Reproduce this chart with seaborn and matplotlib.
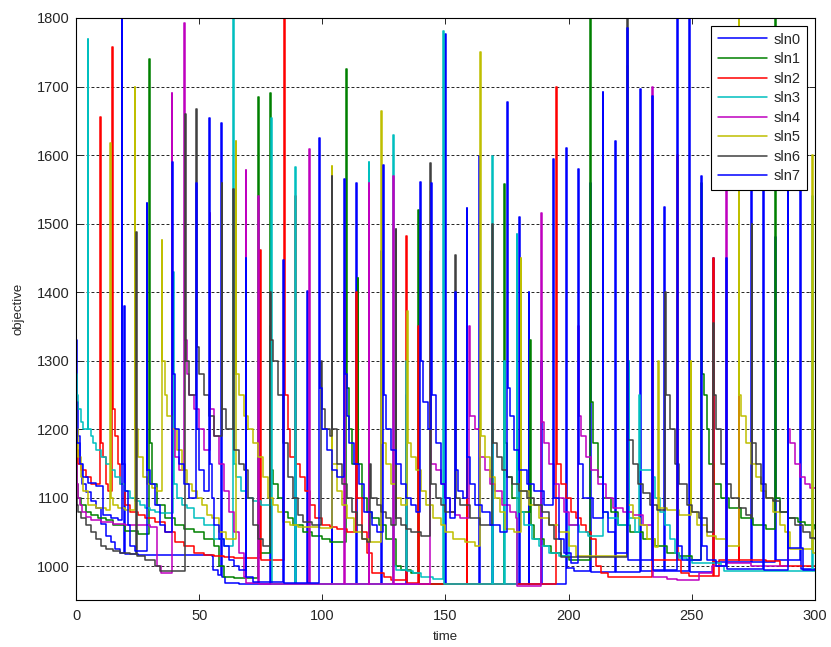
import matplotlib
matplotlib.use("Agg")
import matplotlib.pyplot as plt
import seaborn as sns
import pandas as pd

# ---- objective traces of the eight solutions (time, objective), drawn as steps ----
sln0_t = [0, 0.4, 0.8, 1.5, 2.5, 4, 6, 8, 10, 12, 14, 16, 18, 19.5, 19.8, 25, 35, 45, 55, 55.8, 57.5,
          58.9, 59.2, 60.5, 66, 78.8, 79.1, 88.9, 89.2, 93.7, 94, 103.8, 104.1, 113.8, 114.1, 118.8, 119.1,
          123.8, 124.1, 133.9, 134.2, 149.8, 150.1, 163.7, 164, 168.8, 169.1, 179.9, 180.2, 183.8, 184.1,
          188.8, 189.1, 198.9, 199.2, 202, 208.8, 209.1, 218.8, 219.1, 228.9, 229.2, 238.9, 239.2, 249, 249.3,
          258.6, 258.9, 274, 274.3, 283.9, 284.2, 294, 294.3, 300]
sln0_y = [1330, 1240, 1190, 1150, 1120, 1108, 1095, 1085, 1062, 1045, 1035, 1025, 1020, 1380, 1018, 1017, 1016, 1016, 1015, 995, 988,
          1647, 985, 976, 975, 1350, 975, 1300, 975, 1402, 975, 1500, 975, 1559, 975, 1200, 975,
          1460, 975, 1250, 975, 1777, 975, 1599, 975, 1300, 975, 1510, 975, 1400, 975,
          1300, 975, 1611, 998, 993, 1560, 992, 1621, 992, 1697, 993, 1524, 993, 1850, 992,
          1450, 1007, 1700, 1007, 1480, 1010, 1700, 996, 996]

sln1_t = [0, 0.5, 1, 2, 4, 6, 9, 12, 15, 20, 25, 29.6, 29.9, 31, 33, 36, 40, 44, 48, 52, 56, 58, 60, 64,
          73.8, 74.1, 78.8, 79.1, 80, 82, 84, 86, 88, 92, 96, 100, 103, 109.7, 110, 111, 112, 114.3, 114.6,
          116, 118, 120, 123, 126, 130, 132, 136, 138.9, 139.2, 173.8, 174.1, 175, 177, 180, 184.3, 184.6,
          186, 190, 193, 197, 200, 208.8, 209.1, 210, 212, 214, 217, 220, 225, 230, 235, 240, 245, 250,
          253.9, 254.2, 255, 256, 257, 259, 262, 265, 270, 275, 280, 283.9, 284.2, 286, 289, 293, 296, 300]
sln1_y = [1180, 1120, 1100, 1090, 1080, 1075, 1070, 1068, 1060, 1052, 1048, 1740, 1180, 1120, 1090, 1070, 1060, 1055, 1050, 1040, 1030, 1000, 985, 983,
          1685, 1020, 1690, 1140, 1120, 1100, 1080, 1070, 1060, 1050, 1045, 1040, 1035, 1726, 1260, 1200, 1150, 1420, 1150,
          1100, 1080, 1070, 1060, 1040, 1000, 995, 990, 1520, 975, 1558, 1180, 1130, 1100, 1080, 1330, 1060,
          1040, 1030, 1020, 1015, 1010, 1850, 1240, 1180, 1130, 1100, 1080, 1060, 1050, 1040, 1030, 1020, 1015, 1010,
          1560, 1280, 1250, 1200, 1150, 1120, 1100, 1085, 1070, 1060, 1055, 1800, 1100, 1080, 1070, 1065, 1060, 1055]

sln2_t = [0, 0.5, 1, 2, 4, 6, 9.7, 10, 11, 12, 13, 14.6, 14.9, 16, 17, 18, 20, 22, 25, 28, 32, 36, 40, 44,
          48, 52, 56, 60, 64, 68, 74.7, 75, 84.6, 84.9, 86, 87, 89.1, 89.4, 91, 93, 95, 97, 100, 103, 106,
          110, 113.8, 114.1, 116, 118, 120, 125, 128, 133.9, 134.2, 138.9, 139.2, 158.6, 158.9, 194.9, 195.2,
          197, 199, 201, 203, 205, 207, 209, 211, 213, 216, 234, 234.3, 243.9, 244.2, 245.5, 249, 258.6,
          258.9, 261, 269, 269.3, 280, 286, 300]
sln2_y = [1200, 1170, 1150, 1140, 1130, 1120, 1656, 1180, 1160, 1120, 1110, 1758, 1230, 1190, 1150, 1120, 1090, 1080, 1075, 1070, 1065, 1050, 1035, 1030,
          1020, 1016, 1015, 1014, 1013, 1012, 1462, 1010, 1850, 1250, 1200, 1160, 1540, 1150, 1130, 1110, 1090, 1070, 1060, 1058, 1055,
          1050, 1400, 1100, 1050, 1020, 990, 985, 980, 1482, 976, 1350, 975, 1300, 975, 1700, 1150,
          1120, 1100, 1080, 1070, 1060, 1050, 1040, 1000, 990, 985, 1600, 1010, 1600, 1010, 990, 986, 1450,
          986, 1010, 1700, 1010, 1008, 1000, 1000]

sln3_t = [0, 0.5, 1, 2, 3, 4.7, 5, 6, 7, 8, 10, 12, 14, 16, 18, 20, 22, 24, 26, 28, 30, 32, 34, 39.5, 39.8,
          41, 43, 45, 48, 52, 56, 60, 63.7, 64, 65, 67, 69, 72, 75, 79.3, 79.6, 88.9, 89.2, 118.8, 119.1,
          128.8, 129.1, 130, 133.9, 134.2, 137, 140, 145, 148.9, 149.2, 168.8, 169.1, 173.8, 174.1, 178.9,
          179.2, 180, 182, 185, 188, 192, 196, 200, 204, 208, 213.8, 214.1, 216, 220, 224.3, 224.6, 227,
          228.5, 228.8, 234, 235, 237, 239, 241, 243, 245, 248, 250, 262, 263, 298.8, 299.1, 300]
sln3_y = [1280, 1250, 1230, 1210, 1200, 1770, 1200, 1190, 1180, 1170, 1160, 1150, 1140, 1130, 1120, 1110, 1100, 1095, 1090, 1085, 1082, 1080, 1078, 1430, 1120,
          1100, 1090, 1085, 1070, 1060, 1040, 1030, 1850, 1150, 1130, 1110, 1100, 1095, 1090, 1654, 975, 1582, 975, 1590, 975,
          1630, 1000, 995, 1300, 993, 990, 985, 982, 1781, 975, 1599, 975, 1300, 975, 1485,
          1120, 1080, 1060, 1040, 1030, 1020, 1015, 1060, 1050, 1045, 1500, 1080, 1070, 1060, 1300, 1070, 1050,
          1250, 1140, 1130, 1100, 1080, 1060, 1040, 1020, 1012, 1010, 1005, 1000, 993, 1540, 993, 993]

sln4_t = [0, 0.5, 1, 1.5, 2.5, 4, 6, 10, 15, 20, 25, 30, 33, 34.5, 38.8, 39.1, 40, 42, 43.8, 44.1, 45, 46,
          48, 50, 52, 54.2, 54.5, 56, 58, 60, 62, 64, 66, 68, 68.9, 69.2, 73.8, 74.1, 94.6, 94.9, 108.8,
          109.1, 118.8, 119.1, 128.8, 129.1, 143.9, 144.2, 146, 148, 150, 152, 154, 156, 159.5, 159.8, 162,
          164, 166, 168, 170, 173, 176, 178.5, 179, 188.8, 189.1, 190, 192, 194, 196, 198, 200, 203.8,
          204.1, 205, 207, 209, 212, 215, 218, 222, 226, 230, 234, 234.3, 240, 244, 253, 258, 263.9, 264.2,
          270, 274, 288.9, 289.2, 290, 292, 294, 296, 298, 300]
sln4_y = [1150, 1120, 1100, 1090, 1080, 1072, 1068, 1065, 1062, 1060, 1060, 1058, 1000, 990, 1690, 1200, 1160, 1140, 1792, 1330, 1280, 1250,
          1230, 1200, 1170, 1515, 1230, 1190, 1150, 1110, 1080, 1050, 1020, 985, 1578, 976, 1540, 975, 1609, 975, 1400,
          975, 1560, 975, 1570, 975, 1460, 1150, 1140, 1120, 1100, 1080, 1075, 1070, 1350, 1220, 1200,
          1160, 1140, 1120, 1110, 1090, 1080, 1070, 971, 1516, 1210, 1180, 1150, 1120, 1100, 1080, 1060, 1350,
          1220, 1190, 1160, 1140, 1120, 1100, 1085, 1080, 1075, 1060, 1700, 985, 982, 980, 990, 1000, 1700, 1005,
          1005, 1000, 1750, 1200, 1180, 1150, 1130, 1120, 1115, 1115]

sln5_t = [0, 0.5, 1, 2, 3, 5, 8, 12, 13.8, 14.1, 15, 17, 20, 23.8, 24.1, 25, 27, 29, 31, 33, 34.8, 35.1, 36,
          37, 39, 41, 43, 45, 47, 49, 51, 53, 55, 58, 61, 64.8, 65.1, 66, 68, 70, 72, 74, 76, 78, 80, 82,
          84, 87, 90, 93, 96, 99, 103.8, 104.1, 106, 108, 110, 113, 116, 119, 122, 123.8, 124.1, 126, 128,
          130, 132, 134.5, 134.8, 136, 138, 140, 142, 145, 148, 150, 153, 158, 162, 164, 164.3, 166, 168,
          170, 172, 174, 178, 180.5, 180.8, 184, 188, 192, 196, 200, 203, 223.8, 224.1, 226, 229, 232, 235,
          236.2, 236.5, 240, 245, 249.5, 249.8, 252, 256, 260, 264, 269, 269.3, 270, 272, 274, 276, 278,
          280, 283, 286, 288, 290, 298.8, 299.1, 300]
sln5_y = [1240, 1200, 1160, 1130, 1110, 1090, 1085, 1082, 1618, 1100, 1090, 1085, 1083, 1700, 1200, 1160, 1130, 1120, 1115, 1110, 1476, 1300, 1250,
          1220, 1200, 1170, 1140, 1120, 1110, 1100, 1090, 1075, 1070, 1050, 1040, 1621, 1280, 1250, 1220, 1200, 1180, 1160, 1130, 1100, 1090, 1080,
          1065, 1060, 1058, 1057, 1057, 1056, 1584, 1150, 1110, 1090, 1070, 1050, 1040, 1035, 1035, 1665, 1180, 1150, 1120,
          1100, 1090, 1372, 1180, 1160, 1140, 1110, 1090, 1070, 1060, 1050, 1040, 1035, 1030, 1750, 1190, 1160, 1130,
          1100, 1080, 1055, 1050, 1450, 1110, 1090, 1070, 1060, 1050, 1030, 1015, 1730, 1090, 1070, 1060, 1040, 1028,
          1300, 1085, 1082, 1075, 1300, 1080, 1060, 1045, 1040, 1030, 1800, 1250, 1220, 1180, 1150, 1130, 1110,
          1100, 1080, 1060, 1050, 1025, 1600, 1020, 1020]

sln6_t = [0, 0.5, 1, 2, 4, 6, 8, 10, 12, 15, 18, 22, 24.3, 24.6, 28, 32, 34, 44.3, 44.6, 46, 48.7, 49, 50, 52,
          54, 56, 59.1, 59.4, 61, 63.7, 64, 66, 68, 70, 72, 74, 76, 78.8, 79.1, 80, 82, 84, 86, 88, 90, 92,
          96, 99.5, 99.8, 101, 103, 103.8, 104.1, 106, 108, 110, 112, 114, 116, 118, 119.5, 119.8, 122, 124,
          126, 128, 129.8, 130.1, 132, 134, 136, 140, 143.9, 144.2, 146, 148, 150, 153.9, 154.2, 156, 160,
          164, 168.8, 169.1, 171, 173, 175, 177, 180, 183, 186, 189, 192, 194, 197, 223.8, 224.1, 226, 228,
          230, 233, 236, 239.3, 239.6, 241, 243, 245, 248, 250, 253, 256, 258.6, 258.9, 260, 262, 264, 266,
          269, 272, 274, 274.3, 274.6, 276, 278, 280, 283, 286, 289, 292, 295, 298, 300]
sln6_y = [1100, 1090, 1080, 1070, 1060, 1050, 1040, 1030, 1025, 1022, 1020, 1018, 1488, 1015, 1010, 1000, 993, 1660, 1300, 1250, 1667, 1320, 1280, 1250,
          1220, 1190, 1560, 1230, 1200, 1550, 1170, 1150, 1140, 1100, 1060, 1040, 1030, 1400, 1330, 1300, 1250, 1180, 1130, 1100, 1075, 1065,
          1060, 1300, 1230, 1200, 1190, 1570, 1200, 1150, 1120, 1100, 1080, 1060, 1040, 1035, 1150, 1100, 1090, 1080,
          1070, 1060, 1492, 1070, 1060, 1055, 1050, 1045, 1588, 1120, 1100, 1090, 1080, 1454, 1100, 1090, 1070,
          1060, 1500, 1180, 1160, 1140, 1130, 1120, 1110, 1100, 1090, 1080, 1060, 1040, 1014, 1800, 1185, 1150, 1120,
          1107, 1090, 1082, 1400, 1250, 1200, 1150, 1120, 1090, 1080, 1070, 1050, 1355, 1250, 1200, 1150, 1120, 1100,
          1085, 1075, 1070, 1500, 1180, 1150, 1120, 1100, 1095, 1080, 1070, 1060, 1050, 1042, 1040]

sln7_t = [0, 0.5, 1.5, 3, 5, 8, 11, 14, 17, 18.5, 18.8, 20, 21, 22, 24, 28.7, 29, 30, 32, 34, 36, 38.9, 39.2,
          40, 42, 44, 46, 48.9, 49.2, 50, 52, 53.9, 54.2, 55, 56, 58, 60, 62, 64, 66, 68.9, 69.2, 72, 84.1,
          84.4, 98.7, 99, 100, 102, 104, 106, 108.8, 109.1, 110, 111, 113, 115, 117, 120, 122, 124.8, 125.1,
          126, 128, 130, 132, 134, 136, 138, 139.8, 140.1, 141, 143, 144.3, 144.6, 146, 148, 150, 152, 153.9,
          154.2, 155, 157, 158.6, 158.9, 160, 162, 165, 168, 172, 174.9, 175.2, 176, 178, 180, 183, 186, 190,
          193.8, 194.1, 196, 198, 201, 203.8, 204.1, 206, 210, 213.8, 214.1, 216, 219, 223.8, 224.1, 234,
          234.3, 243.9, 244.2, 246, 253.9, 254.2, 256, 260, 263.9, 264.2, 278.9, 279.2, 288.9, 289.2, 294,
          295.2, 300]
sln7_y = [1240, 1180, 1150, 1130, 1122, 1118, 1075, 1070, 1068, 1850, 1150, 1110, 1060, 1030, 1022, 1530, 1140, 1120, 1090, 1060, 1050, 1590, 1280,
          1200, 1150, 1120, 1100, 1560, 1200, 1140, 1110, 1654, 1150, 1100, 1060, 1040, 1030, 1010, 1000, 995, 1450, 985, 978, 1447,
          976, 1625, 1260, 1200, 1170, 1140, 1130, 1565, 1280, 1220, 1180, 1150, 1120, 1080, 1060, 1050, 1586, 1250,
          1200, 1170, 1150, 1120, 1100, 1090, 1080, 1561, 1300, 1240, 1200, 1560, 1250, 1180, 1120, 1100, 1070, 1400,
          1140, 1110, 1100, 1523, 1160, 1120, 1090, 1080, 1060, 1050, 1677, 1260, 1220, 1170, 1140, 1120, 1110, 1090,
          1595, 1100, 1040, 1020, 1005, 1580, 1150, 1100, 1070, 1692, 1080, 1050, 1020, 1785, 1010, 1686,
          995, 1850, 1030, 1010, 1570, 1030, 1010, 1000, 1450, 996, 1700, 995, 1700, 1027, 1027,
          995, 995]

names = ["sln0", "sln1", "sln2", "sln3", "sln4", "sln5", "sln6", "sln7"]
times = [sln0_t, sln1_t, sln2_t, sln3_t, sln4_t, sln5_t, sln6_t, sln7_t]
values = [sln0_y, sln1_y, sln2_y, sln3_y, sln4_y, sln5_y, sln6_y, sln7_y]
colors = [(0, 0, 1), (0, 0.5, 0), (1, 0, 0), (0, 0.75, 0.75),
          (0.75, 0, 0.75), (0.75, 0.75, 0), (0.25, 0.25, 0.25), (0, 0, 1)]

sns.set_style("white")
plt.rcParams["font.family"] = ["Liberation Sans", "DejaVu Sans"]

fig = plt.figure(figsize=(8.31, 6.47), dpi=100)
ax = fig.add_axes([0.0915, 0.0726, 0.8892, 0.8996])

for name, t, y, c in zip(names, times, values, colors):
    df = pd.DataFrame({"time": t, "objective": y})
    sns.lineplot(data=df, x="time", y="objective", ax=ax, estimator=None, sort=False,
                 drawstyle="steps-post", color=c, linewidth=1.1, label=name)

ax.set_xlim(0, 300)
ax.set_ylim(951, 1800)
ax.set_xticks([0, 50, 100, 150, 200, 250, 300])
ax.set_yticks([1000, 1100, 1200, 1300, 1400, 1500, 1600, 1700, 1800])
ax.yaxis.grid(True, linestyle=(0, (3.5, 2.5)), color="black", linewidth=0.6)
ax.xaxis.grid(False)
ax.set_axisbelow(True)

ax.tick_params(direction="in", length=4, width=0.7, top=True, right=True,
               bottom=True, left=True, labelsize=10.5)
ax.tick_params(axis="x", pad=6.5)
ax.tick_params(axis="y", pad=4.5)
for s in ax.spines.values():
    s.set_color("black")
    s.set_linewidth(0.8)

ax.set_xlabel("time", fontsize=9.5, labelpad=6)
ax.set_ylabel("objective", fontsize=9.5, labelpad=9)

handles, labels = ax.get_legend_handles_labels()
leg = ax.legend(handles, labels, loc="upper right", fontsize=10.5, frameon=True,
                fancybox=False, framealpha=1, edgecolor="black", handlelength=3.4,
                labelspacing=0.38, borderaxespad=0.55, handletextpad=0.4, borderpad=0.45)
leg.get_frame().set_linewidth(0.8)

fig.savefig("out.png", dpi=100)
